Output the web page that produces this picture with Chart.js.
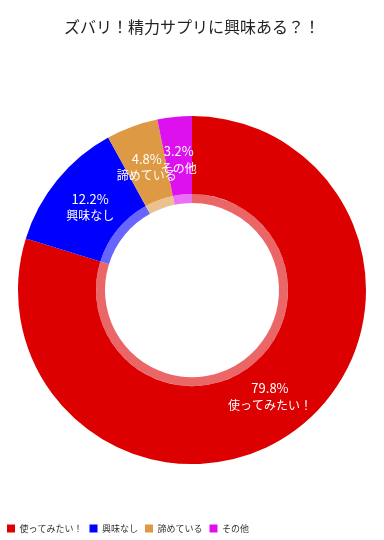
<!DOCTYPE html>
<html>
<head>
<meta charset="utf-8">
<script src="https://cdn.jsdelivr.net/npm/chart.js@4"></script>
<style>
html,body{margin:0;padding:0;background:#fff;}
#wrap{width:384px;height:540px;}
</style>
</head>
<body>
<div id="wrap"><canvas id="c" width="384" height="540"></canvas></div>
<script>
const titleText = 'ズバリ！精力サプリに興味ある？！';
const categories = ['使ってみたい！', '興味なし', '諦めている', 'その他'];
const values = [79.8, 12.2, 4.8, 3.2];
const colors = ['#DD0000', '#0000FF', '#DD9944', '#DD11EE'];
const ringColors = ['#EB6666', '#6666FF', '#EBC28F', '#EB70F5'];

const FONT = '"Noto Sans CJK JP", "Noto Sans", sans-serif';

const labelPlugin = {
  id: 'sliceLabels',
  afterDatasetsDraw(chart) {
    const ctx = chart.ctx;
    const outer = chart.getDatasetMeta(0);
    const inner = chart.getDatasetMeta(1);
    ctx.save();
    ctx.fillStyle = '#ffffff';
    ctx.textAlign = 'center';
    ctx.textBaseline = 'middle';
    outer.data.forEach((arc, i) => {
      const p = arc.getProps(['x','y','startAngle','endAngle','outerRadius'], true);
      const ir = inner.data[i].getProps(['innerRadius'], true).innerRadius;
      const a = (p.startAngle + p.endAngle) / 2;
      const r = (p.outerRadius + ir) / 2 + 1;
      const x = p.x + Math.cos(a) * r;
      const y = p.y + Math.sin(a) * r;
      ctx.font = '13px ' + FONT;
      ctx.fillText(values[i].toFixed(1) + '%', x, y - 8);
      ctx.font = '12px ' + FONT;
      ctx.fillText(categories[i], x, y + 9);
    });
    ctx.restore();
  }
};

new Chart(document.getElementById('c'), {
  type: 'doughnut',
  data: {
    labels: categories,
    datasets: [
      { data: values, backgroundColor: colors, borderWidth: 0, weight: 78 },
      { data: values, backgroundColor: ringColors, borderWidth: 0, weight: 9 }
    ]
  },
  options: {
    responsive: false,
    animation: false,
    cutout: '50%',
    radius: 174,
    layout: { padding: { top: 0, left: 0, right: 0, bottom: -3 } },
    plugins: {
      title: {
        display: true,
        text: titleText,
        color: '#222',
        font: { family: FONT, size: 16, weight: 'normal' },
        padding: { top: 17, bottom: 27 }
      },
      legend: {
        position: 'bottom',
        align: 'start',
        labels: {
          boxWidth: 8,
          boxHeight: 8,
          padding: 7,
          color: '#333',
          font: { family: FONT, size: 9 }
        }
      },
      tooltip: { enabled: false }
    }
  },
  plugins: [labelPlugin]
});
</script>
</body>
</html>
